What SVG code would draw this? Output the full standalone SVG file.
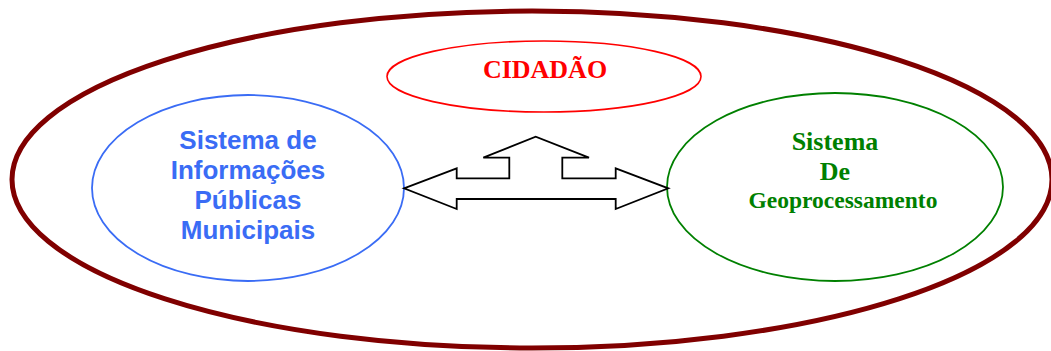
<svg xmlns="http://www.w3.org/2000/svg" width="1051" height="351" viewBox="0 0 1051 351">
<style>
.bg{fill:#ffffff}
.outer{fill:none;stroke:#800000;stroke-width:5}
.citizen{fill:none;stroke:#ff0000;stroke-width:1.6}
.sip{fill:none;stroke:#3a6cf5;stroke-width:1.8}
.geo{fill:none;stroke:#008000;stroke-width:1.8}
.arrow{fill:#ffffff;stroke:#000000;stroke-width:1.8;stroke-linejoin:miter}
.tr{font-family:"Liberation Serif","Times New Roman",serif;font-weight:bold;text-anchor:middle}
.ar{font-family:"Liberation Sans",Arial,sans-serif;font-weight:bold;text-anchor:middle;fill:#3a6cf5;font-size:26px}
</style>
<rect class="bg" x="0" y="0" width="1051" height="351"/>
<g id="boundary">
<ellipse class="outer" cx="532" cy="179.5" rx="520" ry="168.5"/>
</g>
<g id="cidadao">
<ellipse class="citizen" cx="544" cy="76.5" rx="157" ry="35.5"/>
<text class="tr" x="545" y="78" font-size="26" fill="#ff0000">CIDADÃO</text>
</g>
<g id="sistema-informacoes">
<ellipse class="sip" cx="248" cy="188" rx="156" ry="93"/>
<text class="ar" x="248" y="149">Sistema de</text>
<text class="ar" x="248" y="179">Informações</text>
<text class="ar" x="248" y="209">Públicas</text>
<text class="ar" x="248" y="239">Municipais</text>
</g>
<g id="sistema-geoprocessamento">
<ellipse class="geo" cx="835" cy="187" rx="168" ry="94"/>
<text class="tr" x="835" y="150" font-size="26" fill="#008000">Sistema</text>
<text class="tr" x="835" y="180" font-size="26" fill="#008000">De</text>
<text class="tr" x="843" y="208" font-size="23.5" fill="#008000">Geoprocessamento</text>
</g>
<g id="connectors">
<path class="arrow" d="M404,188.3 L456.7,168.3 L456.7,178.3 L509.3,178.3 L509.3,157.7 L483.3,157.7 L535.7,136.7 L589,157.7 L562.3,157.7 L562.3,178.3 L615.7,178.3 L615.7,168.3 L668.3,188.3 L615.7,209 L615.7,199 L456.7,199 L456.7,209 Z"/>
</g>
</svg>
